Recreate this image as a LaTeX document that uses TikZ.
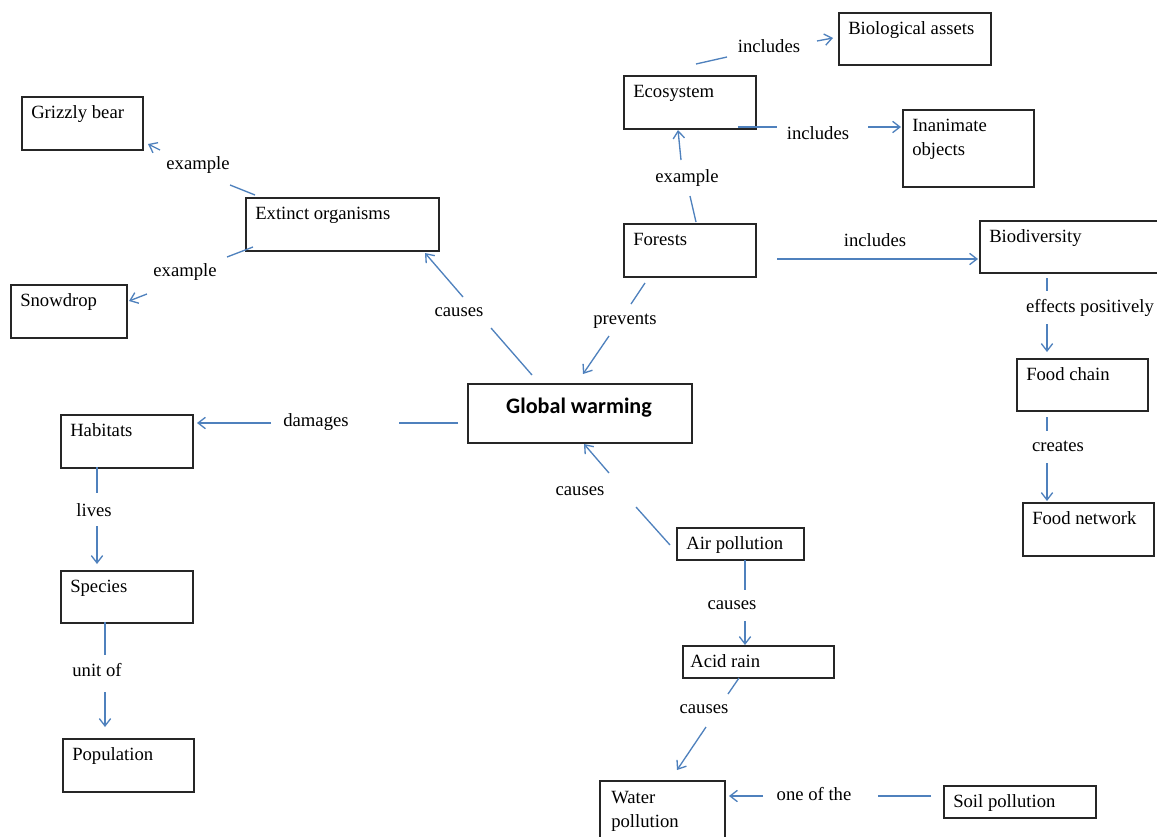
\documentclass[tikz,border=0pt]{standalone}
\usepackage{fontspec}
\setmainfont{Liberation Serif}
\newfontfamily\gwfont{Carlito}
\usetikzlibrary{arrows.meta}
\definecolor{lineblue}{HTML}{4F81BD}
\newcommand\txtsize{\fontsize{14}{18}\selectfont}
\tikzset{
  box/.style 2 args={draw=black!85, line width=1.3pt, anchor=north west, inner sep=0pt,
    minimum width=#1*0.75pt, minimum height=#2*0.75pt},
  boxtxt/.style={font=\txtsize, inner sep=0pt, anchor=base west, align=left, shift={(10,22)}},
  gwtxt/.style={font=\gwfont\bfseries\fontsize{16.6}{20}\selectfont, inner sep=0pt, anchor=base, shift={(112,30)}},
  lbl/.style={font=\txtsize, inner sep=0pt},
  conn/.style={draw=lineblue, line width=1pt},
  arr/.style={conn, -{Straight Barb[length=5.5pt, width=8.5pt]}}
}
\begin{document}
\begin{tikzpicture}[x=0.75pt,y=-0.75pt]
\useasboundingbox (0,0) rectangle (1157,836);
% boxes
\node[box={152}{52}, label={[boxtxt]north west:Biological assets}] (bio) at (838,12) {};
\node[box={132}{53}, label={[boxtxt]north west:Ecosystem}] (eco) at (623,75) {};
\node[box={131}{77}, label={[boxtxt, shift={(0,24)}]north west:Inanimate\\objects}] (inan) at (902,109) {};
\node[box={121}{53}, label={[boxtxt]north west:Grizzly bear}] (griz) at (21,96) {};
\node[box={193}{53}, label={[boxtxt]north west:Extinct organisms}] (ext) at (245,197) {};
\node[box={116}{53}, label={[boxtxt]north west:Snowdrop}] (snow) at (10,284) {};
\node[box={132}{53}, label={[boxtxt]north west:Forests}] (for) at (623,223) {};
\node[box={196}{52}, label={[boxtxt]north west:Biodiversity}] (biod) at (979,220) {};
\node[box={131}{52}, label={[boxtxt]north west:Food chain}] (fc) at (1016,358) {};
\node[box={131}{53}, label={[boxtxt]north west:Food network}] (fn) at (1022,502) {};
\node[box={224}{59}, label={[gwtxt]north west:Global warming}] (gw) at (467,383) {};
\node[box={132}{53}, label={[boxtxt]north west:Habitats}] (hab) at (60,414) {};
\node[box={132}{52}, label={[boxtxt]north west:Species}] (spe) at (60,570) {};
\node[box={131}{53}, label={[boxtxt]north west:Population}] (pop) at (62,738) {};
\node[box={127}{32}, label={[boxtxt]north west:Air pollution}] (air) at (676,527) {};
\node[box={151}{32}, label={[boxtxt, shift={(-2,0)}]north west:Acid rain}] (acid) at (682,645) {};
\node[box={125}{60}, label={[boxtxt, shift={(2,25)}]north west:Water\\pollution}] (water) at (599,780) {};
\node[box={152}{32}, label={[boxtxt]north west:Soil pollution}] (soil) at (943,785) {};
% connector labels
\node[lbl] (l1) at (769,46) {includes};
\node[lbl] (l2) at (818,133) {includes};
\node[lbl] (l3) at (687,178) {example};
\node[lbl] (l4) at (875,240) {includes};
\node[lbl] (l5) at (198,165) {example};
\node[lbl] (l6) at (185,272) {example};
\node[lbl] (l7) at (459,312) {causes};
\node[lbl] (l8) at (625,321) {prevents};
\node[lbl] (l9) at (316,422) {damages};
\node[lbl] (l10) at (94,510) {lives};
\node[lbl] (l11) at (97,670) {unit of};
\node[lbl] (l12) at (1090,308) {effects positively};
\node[lbl] (l13) at (1058,446) {creates};
\node[lbl] (l14) at (580,491) {causes};
\node[lbl] (l15) at (732,605) {causes};
\node[lbl] (l16) at (704,709) {causes};
\node[lbl] (l17) at (814,794) {one of the};
% connector end points
\path (696,64) coordinate (c1a) (727,57) coordinate (c1b) (817,41) coordinate (c1c) (833,38) coordinate (c1d)
      (738,127) coordinate (c2a) (777,127) coordinate (c2b) (868,127) coordinate (c2c) (901,127) coordinate (c2d)
      (696,222) coordinate (c3a) (690,196) coordinate (c3b) (681,160) coordinate (c3c) (678,130) coordinate (c3d)
      (777,259) coordinate (c4a) (978,259) coordinate (c4b)
      (255,195) coordinate (c5a) (230,185) coordinate (c5b) (160,150) coordinate (c5c) (148,144) coordinate (c5d)
      (253,247) coordinate (c6a) (227,257) coordinate (c6b) (147,294) coordinate (c6c) (129,301) coordinate (c6d)
      (532,375) coordinate (c7a) (491,328) coordinate (c7b) (463,297) coordinate (c7c) (425,253) coordinate (c7d)
      (645,283) coordinate (c8a) (631,304) coordinate (c8b) (609,336) coordinate (c8c) (583,374) coordinate (c8d)
      (458,423) coordinate (c9a) (399,423) coordinate (c9b) (271,423) coordinate (c9c) (197,423) coordinate (c9d)
      (97,467) coordinate (c10a) (97,493) coordinate (c10b) (97,526) coordinate (c10c) (97,564) coordinate (c10d)
      (105,622) coordinate (c11a) (105,655) coordinate (c11b) (105,692) coordinate (c11c) (105,727) coordinate (c11d)
      (1047,278) coordinate (c12a) (1047,291) coordinate (c12b) (1047,324) coordinate (c12c) (1047,352) coordinate (c12d)
      (1047,417) coordinate (c13a) (1047,431) coordinate (c13b) (1047,463) coordinate (c13c) (1047,501) coordinate (c13d)
      (670,545) coordinate (c14a) (636,507) coordinate (c14b) (609,473) coordinate (c14c) (584,444) coordinate (c14d)
      (745,560) coordinate (c15a) (745,590) coordinate (c15b) (745,621) coordinate (c15c) (745,645) coordinate (c15d)
      (739,678) coordinate (c16a) (728,694) coordinate (c16b) (706,727) coordinate (c16c) (677,770) coordinate (c16d)
      (931,796) coordinate (c17a) (878,796) coordinate (c17b) (763,796) coordinate (c17c) (729,796) coordinate (c17d);
% connectors
\foreach \i in {1,2,3,5,6,7,8,9,10,11,12,13,14,15,16,17}{
  \draw[conn] (c\i a) -- (c\i b);
  \draw[arr] (c\i c) -- (c\i d);
}
\draw[arr] (c4a) -- (c4b);
\end{tikzpicture}
\end{document}
